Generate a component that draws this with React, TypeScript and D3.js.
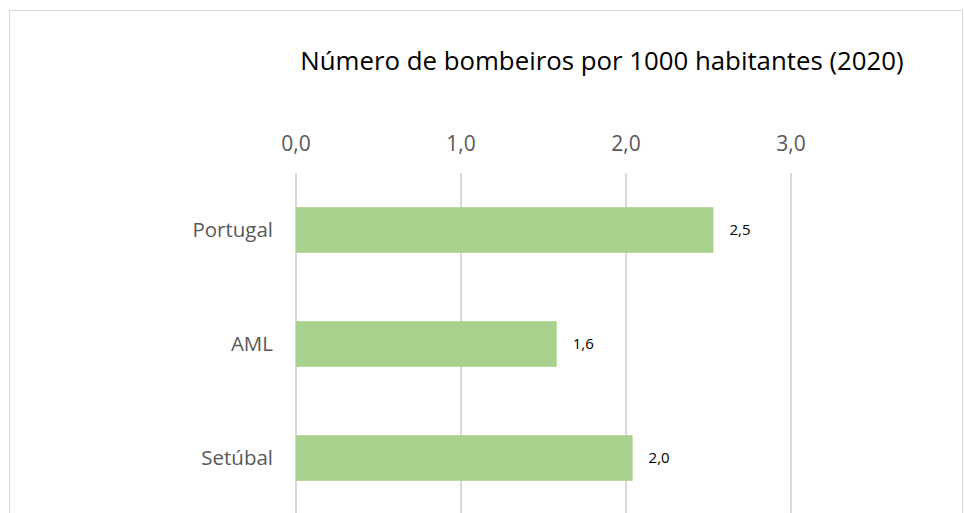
import React from "react";
import * as d3 from "d3";

const categories = ["Portugal", "AML", "Setúbal"];
const values = [2.53, 1.58, 2.04];
const valueLabels = ["2,5", "1,6", "2,0"];
const ticks = [0, 1, 2, 3];
const title = "Número de bombeiros por 1000 habitantes (2020)";

export default function App() {
  const W = 964, H = 513;
  const x = d3.scaleLinear().domain([0, 3]).range([296, 791]);
  const y = d3.scaleBand().domain(categories).range([173, 515]).paddingInner(0.6).paddingOuter(0.3);
  const fmt = (v: number) => d3.format(".1f")(v).replace(".", ",");
  const font = "'Open Sans', sans-serif";

  return (
    <svg width={W} height={H} style={{ position: "absolute", left: 0, top: 0, background: "#fff" }} fontFamily={font}>
      <rect x={9.5} y={10.5} width={953} height={520} fill="#fff" stroke="#d9d9d9" />
      <text x={602} y={70} textAnchor="middle" fontSize={25.8} fill="#000">{title}</text>
      {ticks.map((t) => (
        <g key={t}>
          <line x1={x(t)} x2={x(t)} y1={173} y2={H + 5} stroke="#d9d9d9" strokeWidth={2} />
          <text x={x(t)} y={151} textAnchor="middle" fontSize={21} fill="#595959">{fmt(t)}</text>
        </g>
      ))}
      {categories.map((c, i) => {
        const by = y(c)!, bh = y.bandwidth();
        return (
          <g key={c}>
            <rect x={x(0)} y={by} width={x(values[i]) - x(0)} height={bh} fill="#a9d18e" />
            <text x={273} y={by + bh / 2} dy="0.35em" textAnchor="end" fontSize={20.5} fill="#595959">{c}</text>
            <text x={x(values[i]) + 16} y={by + bh / 2} dy="0.35em" fontSize={15} fill="#000">{valueLabels[i]}</text>
          </g>
        );
      })}
    </svg>
  );
}
